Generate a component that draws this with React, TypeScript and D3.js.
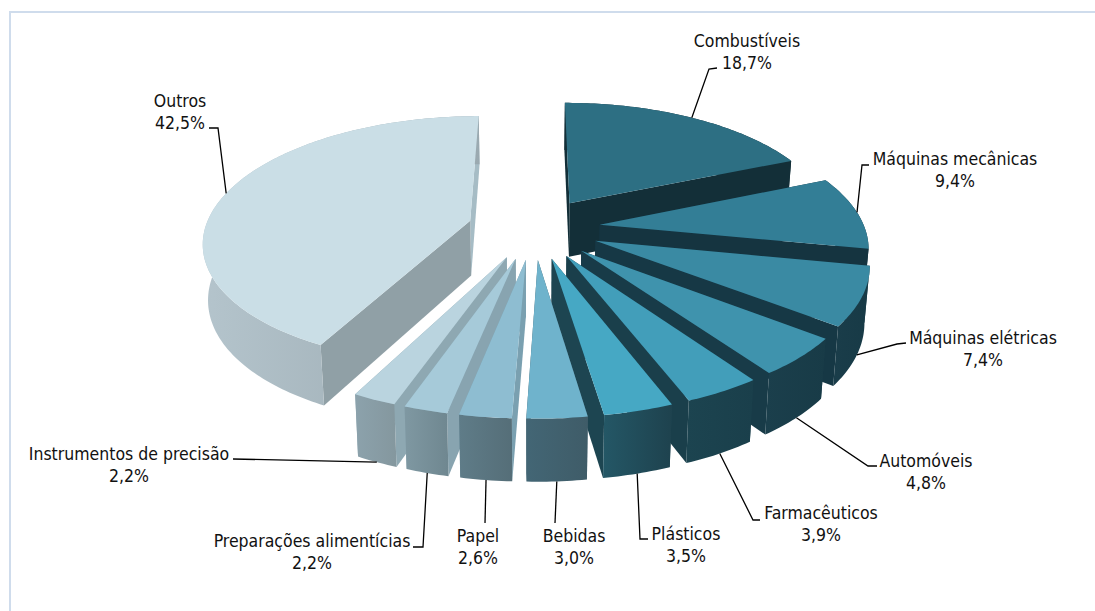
import React from "react";
import * as d3 from "d3";

const categories = ["Combustíveis","Máquinas mecânicas","Máquinas elétricas","Automóveis","Farmacêuticos","Plásticos","Bebidas","Papel","Preparações alimentícias","Instrumentos de precisão","Outros"];
const shares = [18.7,9.4,7.4,4.8,3.9,3.5,3.0,2.6,2.2,2.2,42.5];
const topColors = ["#2D6F83","#337E96","#3A8AA3","#3F93AD","#429EBA","#46A8C4","#6FB3CC","#8EBDD1","#A6CAD9","#BAD4DF","#CADEE6"];
const startFaces = ["#132F38","#153440","#163845","#183B48","#1A3F4B","#1D4551","#3F5E6B","#7AA0B0","#88A4B0","#8EA8B2","#90A0A6"];
const endFaces = ["#132F38","#153440","#163845","#183B48","#1A3F4B","#1D4551","#3F5E6B","#7AA0B0","#88A4B0","#8EA8B2","#A6BCC5"];
const wallFrom = ["#132F38","#153440","#1A3D4A","#1B3F4C","#1C4450","#245766","#436675","#5F7C88","#7F98A2","#8CA2AC","#B4C4CC"];
const wallTo = ["#132F38","#153440","#173A46","#183B47","#1A3F4B","#1E424E","#3F5C68","#556E78","#6F8790","#84979E","#9AA9B0"];

// label layout
const labelX = [747,955,983,926,821,686,574,478,312,129,180];
const labelY = [47,165,344,467,519,540,542,542,547,460,107];
const elbows: ([number,number][])[] = [
  [[717,68],[709,69]],[[869,165],[862,165]],[[906,343],[897,344]],[[877,466],[868,466]],
  [[760,520],[753,520]],[[648,539],[640,539]],[[555,523]],[[485,523]],
  [[413,547],[423,547]],[[233,459]],[[209,128],[218,128]],
];
const anchorOnBase = [false,false,true,true,true,true,true,true,true,true,false];

// projection
const cx = 534, cy = 228, a = 265, b = 123, k = 0.155, explode = 0.25;
const baseScale = 0.984;
const depth = (Y: number) => 55 + 6.5 * Y;

type Pt = [number, number];
const planePoint = (theta: number, r: number, mid: number): Pt => [
  explode * Math.sin(mid) + r * Math.sin(theta),
  -explode * Math.cos(mid) - r * Math.cos(theta),
];
const topPt = ([X, Y]: Pt): Pt => {
  const s = 1 / (1 - k * Y);
  return [cx + a * X * s, cy + b * Y * s];
};
const basePt = (P: Pt): Pt => {
  const [x, y] = topPt(P);
  return [cx + (x - cx) * baseScale, y + depth(P[1])];
};

const arcs = d3.pie<number>().sort(null).value((d) => d)(shares);
const line = d3.line<Pt>();
const wrap = (pts: Pt[]) => (line(pts) as string) + "Z";

const slices = arcs.map((arc, i) => {
  const mid = (arc.startAngle + arc.endAngle) / 2;
  const n = Math.max(8, Math.ceil((arc.endAngle - arc.startAngle) * 60));
  const thetas = d3.range(n + 1).map((j) => arc.startAngle + ((arc.endAngle - arc.startAngle) * j) / n);
  const outer = thetas.map((t) => planePoint(t, 1, mid));
  const apex = planePoint(0, 0, mid);
  const topOuter = outer.map(topPt);
  const baseOuter = outer.map(basePt);
  const topPath = wrap([topPt(apex), ...topOuter]);
  const wallPath = wrap([...topOuter, ...baseOuter.slice().reverse()]);
  const face = (P: Pt) => wrap([topPt(apex), topPt(P), basePt(P), basePt(apex)]);
  const startFace = face(outer[0]);
  const endFace = face(outer[n]);
  const xs = [...topOuter, ...baseOuter].map((p) => p[0]);
  const midP = planePoint(mid, 1, mid);
  const anchor = anchorOnBase[i] ? basePt(midP) : topPt(midP);
  return { i, mid, topPath, wallPath, startFace, endFace, x0: d3.min(xs)!, x1: d3.max(xs)!, anchor, depthKey: -Math.cos(mid), isRight: Math.sin(mid) > 0 };
});
const drawOrder = d3.sort(slices, (s) => s.depthKey);
const fmt = (v: number) => v.toFixed(1).replace(".", ",") + "%";

export default function App() {
  return (
    <svg width={1095} height={611} style={{ position: "absolute", left: 0, top: 0, display: "block", background: "#fff" }}>
      <path d="M10,611V12H1095" fill="none" stroke="#CFDCEC" strokeWidth={2} />
      <defs>
        {slices.map((s) => (
          <linearGradient key={s.i} id={`wall${s.i}`} gradientUnits="userSpaceOnUse" x1={s.x0} x2={s.x1} y1={0} y2={0}>
            <stop offset="0" stopColor={wallFrom[s.i]} />
            <stop offset="1" stopColor={wallTo[s.i]} />
          </linearGradient>
        ))}
      </defs>
      {drawOrder.map((s) => (
        <g key={s.i}>
          {s.isRight ? (
            <>
              <path d={s.startFace} fill={startFaces[s.i]} />
              <path d={s.endFace} fill={endFaces[s.i]} />
            </>
          ) : (
            <>
              <path d={s.endFace} fill={endFaces[s.i]} />
              <path d={s.startFace} fill={startFaces[s.i]} />
            </>
          )}
          <path d={s.wallPath} fill={`url(#wall${s.i})`} />
          <path d={s.topPath} fill={topColors[s.i]} />
        </g>
      ))}
      {slices.map((s) => (
        <path key={s.i} d={line([...elbows[s.i], s.anchor]) as string} fill="none" stroke="#000" strokeWidth={1.3} />
      ))}
      <g fontFamily="'DejaVu Sans', sans-serif" fontSize={17.5} fill="#111" textAnchor="middle" style={{ fontStretch: "condensed" }}>
        {categories.map((c, i) => (
          <text key={c} x={labelX[i]} y={labelY[i]}>
            <tspan x={labelX[i]}>{c}</tspan>
            <tspan x={labelX[i]} dy={22}>{fmt(shares[i])}</tspan>
          </text>
        ))}
      </g>
    </svg>
  );
}
